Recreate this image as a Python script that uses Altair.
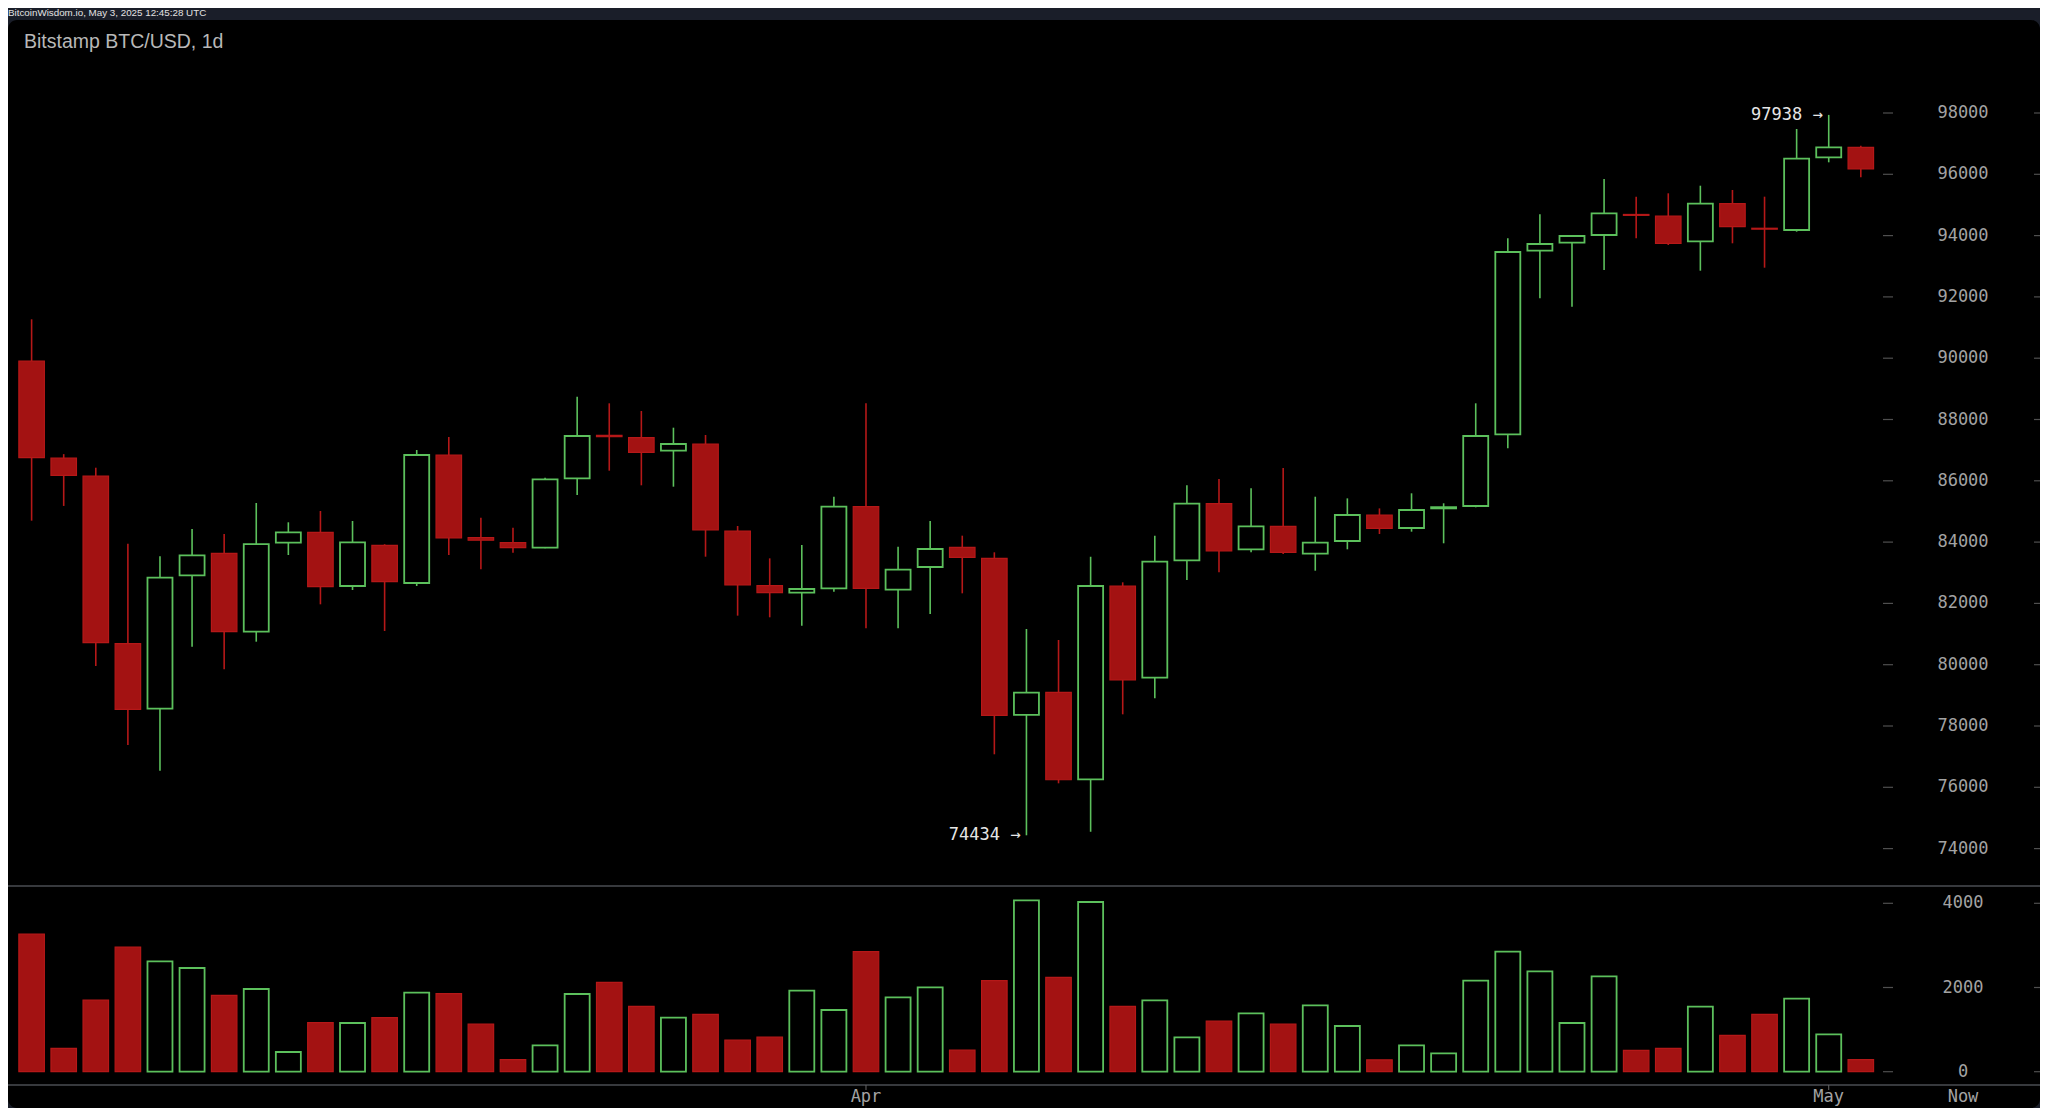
import altair as alt
import pandas as pd

# ---- data (Bitstamp BTC/USD daily candles) ----
opens  = [89909, 86740, 86157, 80685, 78565, 82916, 83634, 81077, 83981, 84319,
          82568, 83896, 82666, 86842, 84150, 83980, 83817, 86082, 87480, 87407,
          86982, 87200, 84362, 82580, 82350, 82492, 85155, 82448, 83188, 83830,
          83470, 78360, 79099, 76261, 82568, 79576, 83405, 85253, 83765, 84515,
          83622, 84036, 84884, 84460, 85100, 85178, 87516, 93508, 93770, 94020,
          94690, 94640, 93814, 95041, 94240, 94183, 96555, 96880]
highs  = [91269, 86870, 86427, 83948, 83537, 84428, 84265, 85276, 84646, 85015,
          84688, 83930, 87005, 87429, 84797, 84470, 86100, 88744, 88528, 88277,
          87733, 87494, 84525, 83470, 83905, 85481, 88528, 83851, 84688, 84210,
          83667, 81165, 80806, 83524, 82688, 84210, 85853, 86059, 85755, 86418,
          85481, 85427, 85100, 85592, 85266, 88528, 93912, 94695, 93990, 95847,
          95270, 95380, 95628, 95488, 95270, 97478, 97938, 96933]
lows   = [84699, 85180, 79958, 77380, 76541, 80587, 79851, 80751, 83579, 81970,
          82437, 81100, 82568, 83579, 83112, 83654, 83800, 85537, 86330, 85853,
          85808, 83524, 81600, 81546, 81273, 82383, 81186, 81186, 81654, 82329,
          77077, 74434, 76130, 74551, 78381, 78903, 82763, 83014, 83667, 83612,
          83067, 83765, 84265, 84340, 83961, 85135, 87060, 91954, 91680, 92878,
          93912, 93693, 92855, 93749, 92953, 94128, 96391, 95902]
closes = [86754, 86180, 80718, 78545, 82838, 83568, 81077, 83937, 84319, 82545,
          83993, 82708, 86842, 84134, 84060, 83820, 86049, 87462, 87440, 86928,
          87200, 84395, 82601, 82350, 82470, 85155, 82492, 83101, 83775, 83503,
          78349, 79088, 76247, 82568, 79500, 83361, 85253, 83710, 84515, 83667,
          83981, 84884, 84450, 85047, 85140, 87462, 93465, 93726, 93987, 94727,
          94660, 93749, 95041, 94290, 94210, 96509, 96880, 96173]
volumes = [3271, 556, 1703, 2962, 2622, 2463, 1815, 1964, 468, 1164,
           1157, 1283, 1877, 1853, 1133, 285, 627, 1846, 2124, 1553,
           1283, 1360, 753, 824, 1924, 1465, 2850, 1767, 2005, 515,
           2162, 4071, 2242, 4031, 1553, 1696, 817, 1204, 1387, 1133,
           1577, 1086, 282, 627, 437, 2162, 2850, 2385, 1157, 2266,
           508, 556, 1544, 865, 1363, 1734, 888, 285]

price_ticks = [74000, 76000, 78000, 80000, 82000, 84000, 86000, 88000,
               90000, 92000, 94000, 96000, 98000]
volume_ticks = [0, 2000, 4000]
month_idx = [26, 56]
month_labels = ["Apr", "May"]
note_idx = [56, 31]
note_price = [97938, 74434]
note_text = ["97938 \u2192", "74434 \u2192"]

TITLE = "Bitstamp BTC/USD, 1d"
HEADER = "BitcoinWisdom.io, May 3, 2025 12:45:28 UTC"

# ---- styling ----
RED = "#a31212"
RED_EDGE = "#b51818"
GREEN = "#5cc05c"
MONO = "DejaVu Sans Mono"
SANS = "Liberation Sans"
W, H = 2032, 1088

df = pd.DataFrame({
    "idx": list(range(len(opens))),
    "open": opens, "high": highs, "low": lows, "close": closes, "vol": volumes,
})
df["dir"] = ["up" if c >= o else "down" for o, c in zip(opens, closes)]

# scales (pixel layout of the reference: 32.25 px per day,
# 30.65 px per 1000 USD, 42.1 px per 1000 BTC volume)
XS = alt.Scale(domain=[-0.58, -0.58 + W / 32.25], nice=False, zero=False)
PY = alt.Scale(domain=[98000 - (H - 93) / 0.03065, 98000 + 93 / 0.03065], nice=False, zero=False)
VY = alt.Scale(domain=[(1051.7 - H) / 0.0421, 1051.7 / 0.0421], nice=False, zero=False)

X = alt.X("idx:Q", scale=XS, axis=None)
COL = alt.Color("dir:N", scale=alt.Scale(domain=["up", "down"], range=[GREEN, RED_EDGE]), legend=None)

base = alt.Chart(df)

wicks = base.mark_rule(strokeWidth=1.6).encode(
    x=X, y=alt.Y("low:Q", scale=PY, axis=None), y2="high:Q", color=COL)

bodies_dn = base.transform_filter("datum.dir == 'down'").mark_bar(
    width=25.5, fill=RED, stroke=RED_EDGE, strokeWidth=1.2).encode(
    x=X, y=alt.Y("open:Q", scale=PY, axis=None), y2="close:Q")

bodies_up = base.transform_filter("datum.dir == 'up'").mark_bar(
    width=25, fill="black", stroke=GREEN, strokeWidth=1.8).encode(
    x=X, y=alt.Y("open:Q", scale=PY, axis=None), y2="close:Q")

vol_dn = base.transform_filter("datum.dir == 'down'").mark_bar(
    width=25.5, fill=RED, stroke=RED_EDGE, strokeWidth=1.2).encode(
    x=X, y=alt.Y("vol:Q", scale=VY, axis=None), y2=alt.datum(0))

vol_up = base.transform_filter("datum.dir == 'up'").mark_bar(
    width=25, fill="black", stroke=GREEN, strokeWidth=1.8).encode(
    x=X, y=alt.Y("vol:Q", scale=VY, axis=None), y2=alt.datum(0))

# separators of the panes
sep_df = pd.DataFrame({"k": [0, 1]})
sep1 = alt.Chart(sep_df).transform_filter("datum.k == 0").mark_rule(
    color="#4a4d52", strokeWidth=1.5).encode(
    y=alt.value(866), x=alt.value(0), x2=alt.value(W))
sep2 = alt.Chart(sep_df).transform_filter("datum.k == 1").mark_rule(
    color="#4a4d52", strokeWidth=1.5).encode(
    y=alt.value(1065), x=alt.value(0), x2=alt.value(W))

# price axis labels and dashes
pt = alt.Chart(pd.DataFrame({"p": price_ticks}))
price_lbl = pt.mark_text(font=MONO, fontSize=17, color="#a3a3a3", align="center",
                         baseline="middle").encode(
    y=alt.Y("p:Q", scale=PY, axis=None), x=alt.value(1955), text=alt.Text("p:Q", format="d"))
price_dash1 = pt.mark_rule(color="#4f4f4f", strokeWidth=1.2).encode(
    y=alt.Y("p:Q", scale=PY, axis=None), x=alt.value(1875), x2=alt.value(1885))
price_dash2 = pt.mark_rule(color="#4f4f4f", strokeWidth=1.2).encode(
    y=alt.Y("p:Q", scale=PY, axis=None), x=alt.value(2026), x2=alt.value(W))

vt = alt.Chart(pd.DataFrame({"v": volume_ticks}))
vol_lbl = vt.mark_text(font=MONO, fontSize=17, color="#a3a3a3", align="center",
                       baseline="middle").encode(
    y=alt.Y("v:Q", scale=VY, axis=None), x=alt.value(1955), text=alt.Text("v:Q", format="d"))
vol_dash1 = vt.mark_rule(color="#4f4f4f", strokeWidth=1.2).encode(
    y=alt.Y("v:Q", scale=VY, axis=None), x=alt.value(1875), x2=alt.value(1885))
vol_dash2 = vt.mark_rule(color="#4f4f4f", strokeWidth=1.2).encode(
    y=alt.Y("v:Q", scale=VY, axis=None), x=alt.value(2026), x2=alt.value(W))

# time labels
mt = alt.Chart(pd.DataFrame({"idx": month_idx, "m": month_labels}))
month_lbl = mt.mark_text(font=MONO, fontSize=17, color="#a3a3a3", align="center",
                         baseline="middle").encode(x=X, y=alt.value(1077), text="m:N")
month_tick = mt.mark_rule(color="#666", strokeWidth=1).encode(
    x=X, y=alt.value(1065), y2=alt.value(1070))
now_lbl = alt.Chart(pd.DataFrame({"t": ["Now"]})).mark_text(
    font=MONO, fontSize=17, color="#a3a3a3", align="center", baseline="middle").encode(
    x=alt.value(1955), y=alt.value(1077), text="t:N")

# high / low annotations
notes = alt.Chart(pd.DataFrame({"idx": note_idx, "p": note_price, "t": note_text})).mark_text(
    font=MONO, fontSize=17, color="#e6e6e6", align="right", baseline="middle", dx=-6).encode(
    x=X, y=alt.Y("p:Q", scale=PY, axis=None), text="t:N")

title = alt.Chart(pd.DataFrame({"t": [TITLE]})).mark_text(
    font=SANS, fontSize=19.5, color="#b8b8b8", align="left", baseline="alphabetic").encode(
    x=alt.value(16), y=alt.value(28), text="t:N")

header = alt.Chart(pd.DataFrame({"t": [HEADER]})).mark_text(
    font=SANS, fontSize=9.8, color="#e2e2e2", align="left", baseline="alphabetic").encode(
    x=alt.value(0), y=alt.value(-4), text="t:N")

chart = alt.layer(
    sep1, sep2, wicks, bodies_dn, bodies_up, vol_dn, vol_up,
    price_dash1, price_dash2, price_lbl, vol_dash1, vol_dash2, vol_lbl,
    month_tick, month_lbl, now_lbl, notes, title, header,
).resolve_scale(y="independent").properties(
    width=W, height=H,
    autosize=alt.AutoSizeParams(type="none"),
    padding={"left": 0, "top": 12, "right": 0, "bottom": 0},
    background="#1a1e29",
).configure_view(fill="black", strokeWidth=0, cornerRadius=9)

chart.save("out.html", embed_options={"renderer": "svg", "actions": False})
